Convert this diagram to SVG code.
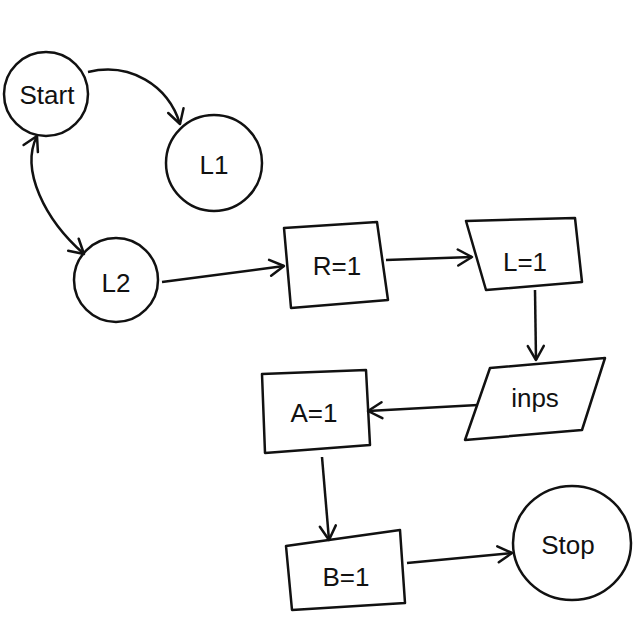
<svg xmlns="http://www.w3.org/2000/svg" width="640" height="640" viewBox="0 0 640 640">
<style>
.s{fill:none;stroke:#111;stroke-width:2.5;stroke-linecap:round;stroke-linejoin:round}
.t{font-family:"Liberation Sans",Arial,sans-serif;font-size:26px;fill:#111;text-anchor:middle;dominant-baseline:central}
.c{fill:none;stroke:#111;stroke-width:2.5;marker-end:url(#ah)}
</style>
<defs>
<marker id="ah" viewBox="0 0 20 20" refX="18" refY="10" markerWidth="20" markerHeight="20" markerUnits="userSpaceOnUse" orient="auto-start-reverse">
<path d="M4 2 L18 10 L4 18" fill="none" stroke="#111" stroke-width="2.5" stroke-linecap="round" stroke-linejoin="round"/>
</marker>
</defs>
<rect width="640" height="640" fill="#fff"/>
<g id="start"><circle class="s" cx="46" cy="94" r="42"/><text class="t" x="47" y="95">Start</text></g>
<g id="L1"><circle class="s" cx="214" cy="163" r="48"/><text class="t" x="214" y="165">L1</text></g>
<g id="L2"><circle class="s" cx="116" cy="280" r="42"/><text class="t" x="116" y="283">L2</text></g>
<g id="R1"><path class="s" d="M284 228 L377 222 L388 300 L291 308 Z"/><text class="t" x="337" y="266">R=1</text></g>
<g id="Lis1"><path class="s" d="M466 221 L575 218 L582 282 L486 290 Z"/><text class="t" x="525" y="262">L=1</text></g>
<g id="inps"><path class="s" d="M490 368 L605 358 L582 430 L465 440 Z"/><text class="t" x="535" y="398">inps</text></g>
<g id="A1"><path class="s" d="M262 374 L366 370 L370 445 L265 453 Z"/><text class="t" x="314" y="413">A=1</text></g>
<g id="B1"><path class="s" d="M286 546 L400 530 L405 603 L292 610 Z"/><text class="t" x="346" y="577">B=1</text></g>
<g id="stop"><ellipse class="s" cx="572" cy="543" rx="59" ry="57"/><text class="t" x="568" y="545">Stop</text></g>
<g id="connectors">
<path class="c" d="M88 72 C130 62 168 85 180 124"/>
<path class="c" style="marker-start:url(#ah)" d="M37 136 C20 170 45 220 84 254"/>
<path class="c" d="M162 282 L284 266"/>
<path class="c" d="M386 260 L472 257"/>
<path class="c" d="M535 290 L536 360"/>
<path class="c" d="M478 405 L368 411"/>
<path class="c" d="M322 457 L329 540"/>
<path class="c" d="M407 563 L512 553"/>
</g>
</svg>
